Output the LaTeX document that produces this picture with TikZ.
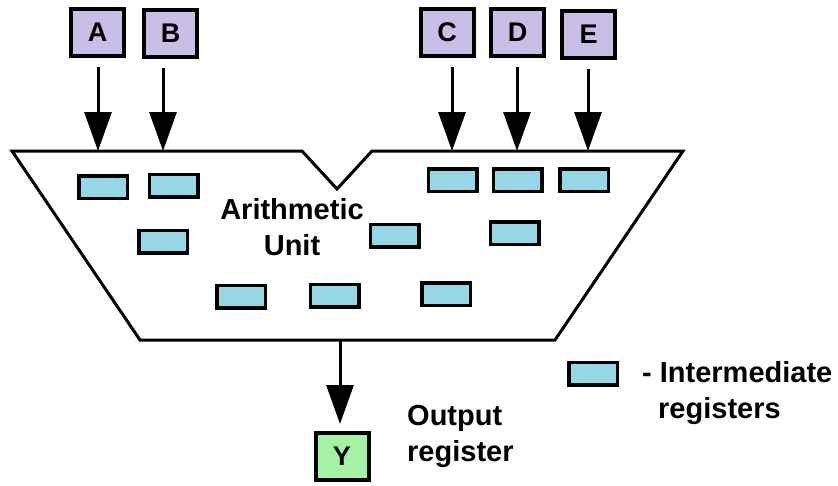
\documentclass[tikz,border=0pt]{standalone}
\usepackage{fontspec}
\setmainfont{Liberation Sans}
\usetikzlibrary{arrows.meta,calc}
\definecolor{regfill}{RGB}{150,215,230}
\definecolor{infill}{RGB}{200,190,230}
\definecolor{outfill}{RGB}{165,242,165}

\begin{document}
\begin{tikzpicture}[x=1pt,y=-1pt,
  inbox/.style={draw, line width=4pt, fill=infill, minimum width=53pt,
    minimum height=47pt, inner sep=0pt, font=\fontsize{27}{30}\selectfont\bfseries},
  regbox/.style={draw, line width=3.5pt, fill=regfill, minimum width=48.5pt,
    minimum height=22.5pt, inner sep=0pt},
  flow/.style={line width=3pt, -{Triangle[width=27pt,length=39pt]}},
  txt/.style={font=\fontsize{29}{36}\selectfont\bfseries, inner sep=0pt}]

\useasboundingbox (0,0) rectangle (838,485);

% arithmetic unit outline with the notch between the input groups
\draw[line width=3pt, line join=miter, fill=white]
  (12,151) -- (302,151) -- (337,189) -- (372,151) -- (683,151)
  -- (555,340) -- (140,340) -- cycle;

% entry points on the top edge, exit point on the bottom edge
\coordinate (tA) at (98,151);
\coordinate (tB) at (163,151);
\coordinate (tC) at (452,151);
\coordinate (tD) at (517,151);
\coordinate (tE) at (588,151);
\coordinate (tOut) at (340,340);

% input registers
\node[inbox] (A) at (97.5,32.5) {A};
\node[inbox] (B) at (170.5,33) {B};
\node[inbox] (C) at (447,32.5) {C};
\node[inbox] (D) at (517.5,32.5) {D};
\node[inbox] (E) at (588.5,34.5) {E};

% output register
\node[inbox, fill=outfill] (Y) at (342,456.5) {Y};

% intermediate registers inside the unit
\node[regbox] (r1) at (103,187) {};
\node[regbox] (r2) at (173.5,185.5) {};
\node[regbox] (r3) at (452.5,180) {};
\node[regbox] (r4) at (517.5,180) {};
\node[regbox] (r5) at (584,180) {};
\node[regbox] (r6) at (163,241.5) {};
\node[regbox] (r7) at (394.5,235.5) {};
\node[regbox] (r8) at (514.5,233) {};
\node[regbox] (r9) at (241,296.5) {};
\node[regbox] (r10) at (334.5,295.5) {};
\node[regbox] (r11) at (446,294) {};

\node[txt, align=center] (unit) at (292,227) {Arithmetic\\Unit};

% data flow
\draw[flow] ($(A.south -| tA)+(0,9)$) -- (tA);
\draw[flow] ($(B.south -| tB)+(0,9)$) -- (tB);
\draw[flow] ($(C.south -| tC)+(0,9)$) -- (tC);
\draw[flow] ($(D.south -| tD)+(0,9)$) -- (tD);
\draw[flow] ($(E.south -| tE)+(0,9)$) -- (tE);
\draw[flow] (tOut) -- ($(Y.north -| tOut)+(0,-7)$);

\node[txt, align=left, anchor=west] (outlbl) at (407,436) {Output\\register};

% legend
\node[regbox] (key) at (593,373.5) {};
\node[txt, align=left, anchor=west] (keylbl) at (642,393) {- Intermediate\\\hspace*{16pt}registers};
\end{tikzpicture}
\end{document}
